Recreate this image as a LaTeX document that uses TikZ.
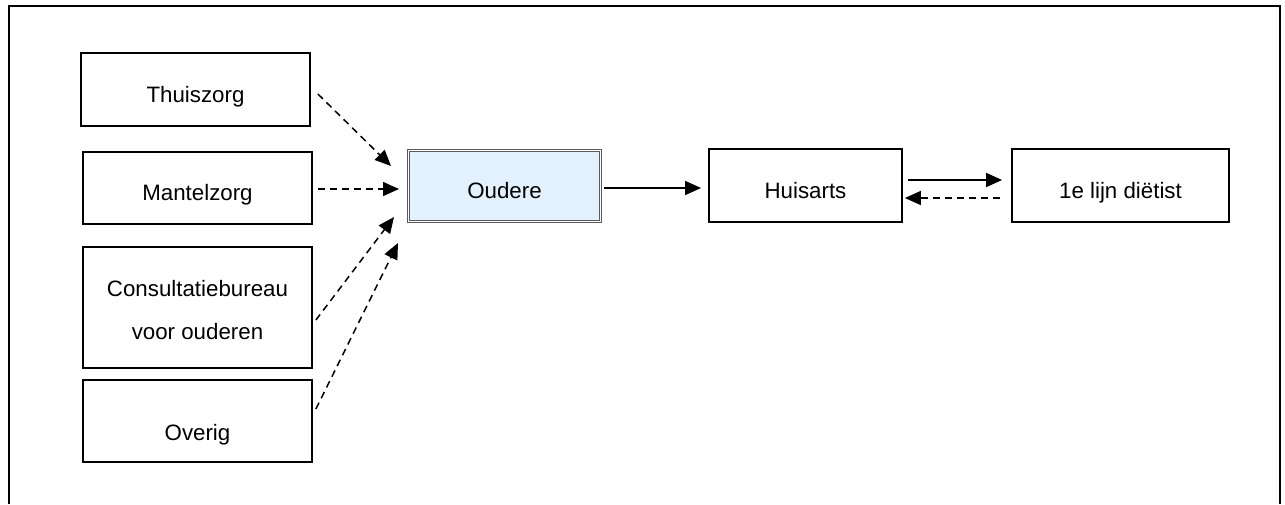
\documentclass[tikz,border=0pt]{standalone}
\usepackage{fontspec}
\setmainfont{Liberation Sans}
\usetikzlibrary{arrows.meta,calc}
\definecolor{oudfill}{RGB}{226,241,253}
\definecolor{oudline}{RGB}{90,90,90}
\begin{document}
\begin{tikzpicture}[x=1pt,y=-1pt,
  box/.style={draw=black,line width=1.8pt,fill=white,inner sep=0pt,
    font=\fontsize{22.3}{26}\selectfont,text height=25pt,text depth=0pt},
  oudbox/.style={draw=oudline,line width=1pt,double=white,double distance=1.2pt,
    fill=oudfill,inner sep=0pt,font=\fontsize{22.3}{26}\selectfont,text height=25pt,text depth=0pt},
  conn/.style={line width=1.5pt,-{Triangle[length=16pt,width=14pt]}},
  dconn/.style={conn,dash pattern=on 7pt off 5pt}]
\useasboundingbox (0,0) rectangle (1285,504);
\draw[line width=2pt] (9,504) -- (9,6) -- (1280,6) -- (1280,504);

\node[box,minimum width=229pt,minimum height=73pt] (thuis) at (195.5,89.5) {Thuiszorg};
\node[box,minimum width=229pt,minimum height=72pt] (mantel) at (197.5,188) {Mantelzorg};
\node[box,minimum width=229pt,minimum height=121pt,align=center,
  font=\fontsize{22.3}{43}\selectfont,text height=63pt,text depth=0pt] (consult) at (197.5,307.5)
  {Consultatiebureau\\voor ouderen};
\node[box,minimum width=229pt,minimum height=82pt,text height=38pt] (overig) at (197.5,421) {Overig};
\node[oudbox,minimum width=192pt,minimum height=71pt] (oudere) at (504.5,186) {Oudere};
\node[box,minimum width=193pt,minimum height=73pt] (huis) at (805.5,185.5) {Huisarts};
\node[box,minimum width=217pt,minimum height=73pt] (diet) at (1120.5,185.5) {1e lijn diëtist};

\draw[dconn] ($(thuis.east)+(7,4.5)$) -- ($(oudere.west)+(-17,-20)$);
\draw[dconn] ($(mantel.east)+(5,1)$) -- ($(oudere.west)+(-9,3)$);
\draw[dconn] ($(consult.east)+(3,12.5)$) -- ($(oudere.west)+(-14,31)$);
\draw[dconn] ($(overig.east)+(3,-12)$) -- ($(oudere.west)+(-10,57)$);
\draw[conn] ($(oudere.east)+(3,2)$) -- ($(huis.west)+(-7,2.5)$);
\draw[conn] ($(huis.east)+(5,-5.5)$) -- ($(diet.west)+(-9,-5.5)$);
\draw[dconn] ($(diet.west)+(-11,12.5)$) -- ($(huis.east)+(2,12.5)$);
\end{tikzpicture}
\end{document}
